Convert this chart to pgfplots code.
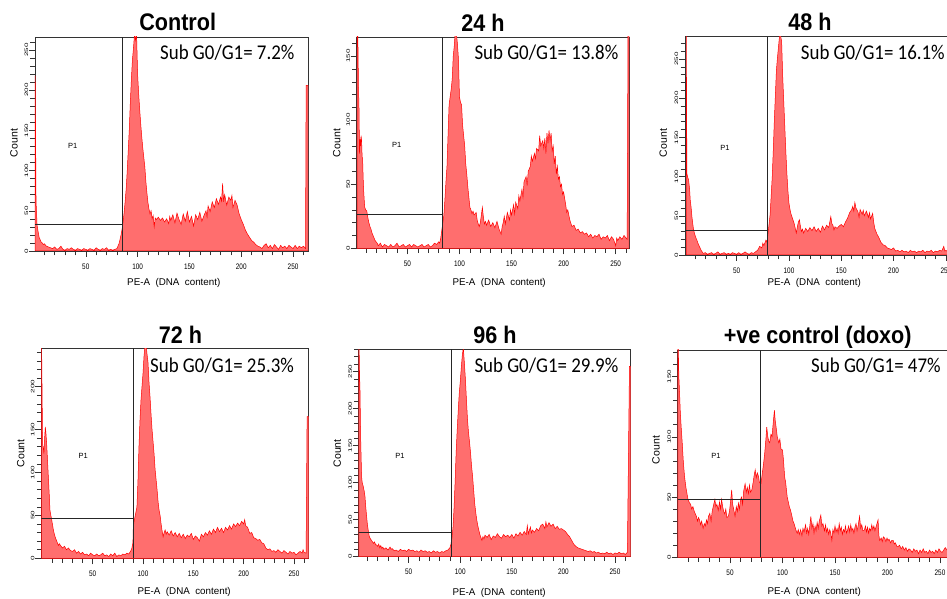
\documentclass[border=0pt]{standalone}
\usepackage{pgfplots}
\pgfplotsset{compat=1.18}
\usepackage{fontspec}
\setmainfont{Liberation Sans}
\newfontfamily\titlefont[FakeStretch=0.9]{Liberation Sans}
\newfontfamily\calfont[FakeStretch=0.9]{Carlito}
\definecolor{histfill}{RGB}{255,110,110}
\definecolor{histline}{RGB}{255,0,0}
\pgfplotsset{
  hist/.style={
    scale only axis,
    axis line style={black!80, line width=0.6pt},
    tick style={black!80, line width=0.5pt},
    tick align=outside,
    tick pos=left,
    xtick={50,100,150,200,250},
    minor xtick={10,20,...,260},
    minor ytick={10,20,...,280},
    major tick length=6pt,
    minor tick length=4.5pt,
    /pgf/number format/assume math mode=true,
    xticklabel style={font=\fontsize{8}{8}\selectfont, xscale=0.8},
    xticklabel shift=3pt,
    yticklabel style={font=\fontsize{6.2}{6.2}\selectfont, rotate=90, anchor=south, xscale=1.3, yscale=0.8},
    yticklabel shift=-2pt,
    ymin=0,
  },
  dat/.style={draw=histline, line width=0.5pt, fill=histfill},
  gate/.style={black!85, line width=0.7pt},
}
\begin{document}
\begin{tikzpicture}[x=1pt,y=1pt]
\useasboundingbox (0,0) rectangle (947,599);
\clip (0,0) rectangle (947,599);

% ---------------- Control ----------------
\begin{axis}[hist, at={(35pt,348pt)}, anchor=south west, width=273pt, height=214pt,
  xmin=1, xmax=264.4, ymax=266, ytick={0,50,100,150,200,250}]
\addplot[dat] coordinates {(1.2,218) (2,62) (3,32) (4,24) (5,17) (6,14) (7,11) (8,10) (9,8) (10,9) (12,6) (14,5) (16,4) (18,3) (20,5) (22,2) (24,3) (26,6) (28,2) (30,1) (32,3) (34,2) (36,4) (38,2) (40,1) (42,3) (44,2) (46,1) (48,3) (50,2) (52,1) (54,3) (56,2) (58,1) (60,4) (62,2) (64,1) (66,3) (68,2) (70,4) (72,1) (74,2) (76,1) (78,2) (80,3) (81,6) (82,9) (83,14) (84,20) (85,27) (86,36) (87,48) (88,62) (89,78) (90,100) (91,126) (92,152) (93,186) (94,214) (95,238) (96,252) (97,270) (98,262) (99,270) (100,220) (101,196) (102,176) (103,158) (104,142) (105,128) (106,116) (107,104) (108,86) (109,72) (110,60) (111,52) (112,46) (113,50) (114,40) (115,44) (116,30) (117,41) (118,39) (120,42) (122,38) (124,41) (126,36) (128,40) (130,34) (131,43) (132,38) (134,45) (136,35) (138,47) (140,39) (142,33) (144,46) (146,37) (148,49) (150,36) (152,43) (154,31) (156,45) (158,39) (160,48) (162,37) (164,44) (166,50) (167,42) (168,56) (170,49) (172,61) (174,54) (176,65) (178,58) (180,67) (181,62) (182,84) (183,61) (184,70) (186,57) (188,67) (190,63) (191,69) (192,54) (194,63) (196,57) (198,46) (200,39) (202,33) (204,26) (206,21) (208,17) (210,13) (212,11) (214,8) (216,6) (218,5) (220,3) (222,7) (224,9) (226,4) (228,7) (230,3) (232,8) (234,5) (236,2) (238,7) (240,4) (242,6) (244,3) (246,7) (248,5) (250,3) (252,7) (254,3) (256,6) (258,4) (260,6) (262,3) (262.6,206) (264.4,206)} \closedcycle;
\addplot[gate] coordinates {(1,33.6) (85.6,33.6)};
\addplot[gate] coordinates {(85.6,0) (85.6,266)};
\end{axis}

% ---------------- 24 h ----------------
\begin{axis}[hist, at={(356.7pt,350.7pt)}, anchor=south west, width=272.3pt, height=211.3pt,
  xmin=1.3, xmax=262.8, ymax=165, ytick={0,50,100,150}]
\addplot[dat] coordinates {(1.6,200) (2.5,160) (3,126) (3.5,110) (4,74) (4.5,85) (5,80) (5.5,88) (6,84) (6.5,72) (7,69) (7.5,55) (8,45) (8.5,38) (9,32) (10,30) (11,29) (12,24) (13,20) (14,17) (15,15) (16,12) (17,10) (18,8) (19,6) (20,5) (21,4) (22,2) (24,4) (26,1) (28,3) (30,2) (32,1) (34,3) (36,1) (38,2) (40,4) (42,1) (44,2) (46,3) (48,1) (50,2) (52,3) (54,1) (56,3) (58,2) (60,1) (62,2) (64,3) (66,1) (68,2) (70,3) (72,1) (74,2) (76,4) (78,3) (80,5) (81,4) (82,8) (83,14) (84,20) (85,26) (86,38) (87,52) (88,64) (89,88) (90,112) (91,118) (92,124) (93,132) (94,150) (95,158) (96,170) (97,168) (98,160) (99,148) (100,118) (101,114) (102,112) (103,96) (104,88) (105,80) (106,66) (107,58) (108,48) (109,40) (110,32) (111,30) (112,27) (113,29) (114,26) (116,28) (117,22) (118,19) (119,17) (120,20) (121,26) (122,32) (123,24) (124,19) (125,21) (126,18) (128,22) (130,17) (132,20) (134,16) (136,21) (138,15) (140,11) (141,17) (142,20) (143,25) (144,19) (146,28) (148,22) (149,30) (150,26) (152,34) (153,27) (154,36) (156,31) (157,41) (158,37) (160,46) (161,40) (162,52) (164,56) (165,49) (166,60) (168,64) (169,72) (170,68) (172,74) (173,70) (174,78) (176,76) (177,88) (178,80) (180,84) (181,78) (182,86) (183,74) (184,90) (185,82) (186,92) (187,84) (188,90) (189,76) (190,80) (191,66) (192,72) (193,58) (194,64) (195,54) (196,56) (197,48) (198,50) (199,42) (200,44) (202,34) (203,28) (204,30) (206,22) (208,17) (210,18) (212,14) (214,15) (216,12) (218,13) (220,11) (222,12) (224,9) (226,11) (228,8) (230,10) (232,9) (234,11) (236,7) (238,9) (240,8) (242,10) (244,6) (246,9) (248,7) (250,2) (251,8) (252,6) (254,9) (256,7) (258,10) (260,8) (261,7) (262,200) (262.8,200)} \closedcycle;
\addplot[gate] coordinates {(1.3,26.6) (83.4,26.6)};
\addplot[gate] coordinates {(83.4,0) (83.4,165)};
\end{axis}

% ---------------- 48 h ----------------
\begin{axis}[hist, at={(685pt,344pt)}, anchor=south west, width=275.5pt, height=218.3pt,
  xmin=0.6, xmax=264, ymax=278.5, ytick={0,50,100,150,200,250}]
\addplot[dat] coordinates {(1.8,300) (2.4,104) (3,100) (4,96) (5,84) (5.6,70) (6.5,60) (7.2,49) (8,40) (8.8,32) (10,26) (11,22) (12,19) (13,15) (14,12) (15,9) (16,6) (17,4) (18,2) (20,3) (22,1) (24,2) (26,3) (28,1) (30,2) (32,4) (34,1) (36,2) (38,3) (40,1) (42,2) (44,1) (46,3) (48,2) (50,1) (52,3) (54,1) (56,2) (58,4) (60,2) (62,1) (64,3) (66,2) (68,4) (70,6) (72,11) (74,9) (75,15) (76,12) (78,19) (79,16) (80,28) (81,40) (82,52) (83,76) (84,100) (85,134) (86,172) (87,204) (88,236) (89,252) (90,266) (91,280) (92,280) (93,272) (94,228) (95,196) (96,164) (97,132) (98,104) (99,82) (100,66) (101,58) (102,52) (103,48) (104,44) (105,40) (106,34) (107,28) (108,36) (109,42) (110,45) (111,36) (112,30) (113,33) (114,28) (116,34) (118,30) (120,35) (122,31) (124,36) (126,30) (128,34) (130,29) (132,37) (134,32) (136,38) (138,35) (140,49) (141,40) (142,38) (143,32) (144,36) (146,34) (148,37) (150,39) (152,36) (154,42) (156,47) (158,54) (160,58) (161,62) (162,56) (163,67) (164,60) (166,55) (167,48) (168,58) (170,52) (171,57) (172,50) (174,56) (176,48) (177,54) (178,46) (180,53) (181,42) (182,34) (184,27) (186,22) (188,16) (190,13) (192,12) (194,9) (196,8) (198,7) (200,9) (202,5) (204,6) (206,4) (208,6) (210,4) (212,5) (214,3) (216,6) (218,4) (220,5) (222,3) (224,5) (226,4) (228,6) (230,3) (232,5) (234,4) (236,6) (238,3) (240,5) (242,4) (244,6) (246,5) (248,11) (249,5) (250,6) (252,4) (254,5) (256,6) (258,4) (260,5) (262,4) (263,6)} \closedcycle;
\addplot[gate] coordinates {(0.6,32) (79.2,32)};
\addplot[gate] coordinates {(79.2,0) (79.2,278.5)};
\end{axis}

% ---------------- 72 h ----------------
\begin{axis}[hist, at={(41.3pt,40.7pt)}, anchor=south west, width=267.4pt, height=210pt,
  xmin=-1, xmax=264.6, ymax=244.6, ytick={0,50,100,150,200}]
\addplot[dat] coordinates {(-0.8,260) (0.3,134) (1,128) (1.6,122) (2.3,140) (3,153) (3.6,146) (4.3,134) (5,118) (6,95) (7,72) (7.6,56) (8.5,50) (9.3,45) (10,40) (11,33) (12,28) (13,24) (14,21) (15,18) (16,15) (17,17) (18,15) (20,12) (22,14) (24,10) (26,12) (28,9) (30,8) (32,10) (34,6) (36,8) (38,5) (40,7) (42,4) (44,5) (46,3) (48,6) (50,4) (52,3) (54,5) (56,3) (58,4) (60,6) (62,3) (64,4) (66,2) (68,5) (70,3) (72,6) (74,2) (76,4) (78,3) (80,5) (82,4) (84,6) (86,5) (88,9) (89,12) (90,18) (90.4,37) (91,42) (92,48) (93,54) (94,60) (95,90) (96,130) (97,160) (98,184) (99,200) (100,215) (101,235) (102,248) (103,250) (104,238) (105,228) (106,205) (107,188) (108,168) (109,150) (110,136) (111,122) (112,104) (113,92) (114,80) (115,66) (116,56) (117,50) (118,40) (119,32) (120,25) (121,30) (122,33) (123,28) (124,31) (126,27) (128,32) (130,26) (132,30) (134,25) (136,29) (138,24) (140,28) (142,23) (144,27) (146,25) (148,29) (150,22) (152,26) (154,24) (156,20) (158,28) (160,25) (162,30) (164,27) (166,32) (168,28) (170,34) (172,30) (174,36) (176,31) (178,35) (180,30) (182,36) (184,33) (186,38) (188,34) (190,40) (192,37) (194,41) (196,38) (198,43) (200,40) (201,45) (202,38) (204,36) (206,29) (208,30) (210,24) (212,23) (214,21) (216,22) (218,18) (220,17) (222,12) (224,10) (226,11) (228,8) (230,9) (232,7) (234,10) (236,8) (238,6) (240,9) (242,7) (244,5) (246,8) (248,6) (250,7) (252,4) (254,6) (256,8) (258,6) (259,10) (260,7) (262,6) (263,165) (264.6,165)} \closedcycle;
\addplot[gate] coordinates {(-1,46.5) (90.3,46.5)};
\addplot[gate] coordinates {(90.3,0) (90.3,244.6)};
\end{axis}

% ---------------- 96 h ----------------
\begin{axis}[hist, at={(358.7pt,42.3pt)}, anchor=south west, width=272pt, height=207.4pt,
  xmin=1.6, xmax=265.2, ymax=280, ytick={0,50,100,150,200,250}]
\addplot[dat] coordinates {(1.8,300) (2.5,240) (2.8,230) (3.5,160) (4.4,108) (5,100) (6,95) (7,88) (7.7,81) (8.5,66) (9.3,54) (10,44) (11,34) (11.9,27) (13,24) (14,22) (15,20) (16,18) (17,20) (18,16) (19,16) (20,14) (21,17) (22,12) (23,15) (24,11) (25,13) (26,10) (28,12) (30,9) (32,13) (33,10) (34,11) (36,8) (38,9) (40,7) (42,10) (44,8) (46,9) (48,7) (50,10) (52,8) (54,9) (56,7) (58,8) (60,6) (62,9) (64,7) (66,8) (68,6) (70,7) (72,5) (74,8) (76,6) (78,7) (80,5) (82,7) (84,6) (86,8) (88,9) (90,12) (91,17) (92,26) (93,40) (94,66) (95,100) (96,140) (97,170) (98,196) (99,220) (100,236) (101,255) (102,272) (103,282) (104,262) (105,240) (106,212) (107,186) (108,168) (109,155) (110,140) (111,122) (112,108) (113,90) (114,72) (115,60) (116,50) (117,42) (118,36) (119,30) (120,26) (121,22) (122,27) (123,24) (124,29) (126,26) (128,30) (130,23) (132,28) (134,26) (136,31) (138,27) (140,25) (142,30) (144,27) (146,29) (148,26) (150,30) (152,25) (154,31) (156,28) (158,33) (160,29) (162,34) (164,30) (165,42) (166,31) (168,40) (169,32) (170,36) (172,33) (174,38) (176,35) (178,42) (180,44) (182,38) (183,47) (184,40) (186,46) (188,41) (190,44) (192,38) (194,41) (196,37) (198,38) (200,36) (202,34) (204,30) (206,27) (208,22) (210,17) (212,14) (214,12) (216,11) (218,10) (220,9) (222,8) (224,7) (226,8) (228,6) (230,7) (232,5) (234,6) (236,4) (238,5) (240,4) (242,6) (244,4) (246,5) (248,3) (250,5) (252,4) (254,6) (256,4) (258,5) (260,3) (262,6) (264,257) (265.2,257)} \closedcycle;
\addplot[gate] coordinates {(1.6,33) (91.7,33)};
\addplot[gate] coordinates {(91.7,0) (91.7,280)};
\end{axis}

% ---------------- +ve control (doxo) ----------------
\begin{axis}[hist, at={(677.7pt,41.7pt)}, anchor=south west, width=277pt, height=207.3pt,
  xmin=0.2, xmax=264, ymax=172, ytick={0,50,100,150}]
\addplot[dat] coordinates {(0.4,190) (1.3,150) (2,136) (2.6,122) (3.5,108) (4.5,95) (5.5,80) (6.7,67) (8,58) (9,53) (10,48) (11.5,45) (12.5,44) (13.5,40) (14.7,42) (16,38) (17,36) (18,34) (19,30) (20,33) (21,31) (22,27) (23,30) (24.4,24) (25.5,28) (26.5,26) (27.6,31) (28.5,28) (29.5,34) (30.8,36.5) (32,30) (33,38) (34,42) (35.6,48) (36.5,42) (37.5,44) (38.8,39) (40,46) (41,40) (42,48) (43,42) (44,38) (45,36) (46,40) (47,33) (48.4,34) (49.5,38) (50.5,46) (51.6,56) (52.5,44) (53.5,40) (54.8,34) (56,42) (57,38) (58,45) (59,40) (60,48) (61,50) (62,44) (63,55) (64.4,61) (65.5,54) (66.5,58) (67.6,53) (68.5,60) (69.5,54) (70.8,56) (72,62) (73,68) (74,72.5) (75,66) (76,70) (77.2,67) (78,62) (79.5,61) (80.5,68) (82,78) (83,86) (84,96) (85,108) (86,100) (87,96) (87.8,95) (89,102) (90,100) (91,110) (92.3,122) (93,114) (94.2,106) (95,100) (96.5,95) (97.5,98) (98.5,90) (100,89) (101,80) (102,67) (103,62) (104.5,50) (105.5,46) (106.5,42) (107.7,39) (109,34) (110,30) (111,28) (112,25) (113,22) (114,20) (115,23) (116,19) (117.3,23) (118.5,18) (119.5,24) (120.5,21) (122,27) (123,20) (124,24) (125,19) (126,26) (127,34) (128,24) (129,28) (130,20) (131,26) (132,22) (133,29) (134,24) (135,30) (136.5,35) (137.5,26) (138.5,28) (140,22) (141,27) (142,21) (143,24) (144,19) (145,23) (146,20) (147,14) (148,23) (149,20) (150,26) (151,21) (152,24) (153,20) (154,28) (155,22) (156,25) (157,19) (158,23) (159,21) (160,26) (161,20) (162,22.7) (163,26) (164,21) (165,27) (166,22) (167,24) (168,20) (169,25) (170,28) (171,22) (172,26) (173.4,34) (174.5,24) (175.5,27) (176.5,22) (178,22.7) (179,26) (180,21) (181,25) (182,20) (183,24) (184,22) (185,27) (186,23) (187,26) (188,22) (189,25) (190,28) (191,31) (191.8,18) (192.6,14) (194,16) (195,13) (196,17) (197.4,15.8) (198.5,13) (199.5,16) (200.5,14) (201.5,15) (203,12) (204,14) (205.4,14) (206.5,11) (207.5,12) (209,9) (210,8.9) (211.5,10) (213,7) (214.5,9) (216,6) (217.5,8) (219,5) (220.5,7) (222,6) (223.5,4) (225,7) (226.5,5) (228,6) (229.5,3) (231,6) (232.5,4) (234,7) (235.5,4) (237,5) (238.5,3) (240,6) (241.5,4) (243,5) (244.5,3) (246,6) (247.5,4) (249,7) (250.5,5) (252,4) (253.5,6) (255,8) (256.7,6) (258,5) (260,7) (262,4) (264,6)} \closedcycle;
\addplot[gate] coordinates {(0.2,48.2) (78.8,48.2)};
\addplot[gate] coordinates {(78.8,0) (78.8,172)};
\end{axis}

% ---------------- titles ----------------
\begin{scope}[every node/.style={font=\titlefont\bfseries\fontsize{24}{24}\selectfont, anchor=base, inner sep=0pt}]
\node at (177.7,568.3) {Control};
\node at (483,567.3) {24 h};
\node at (810,568.3) {48 h};
\node at (180.5,255.7) {72 h};
\node at (495,255) {96 h};
\node at (817.7,255.7) {+ve control (doxo)};
\end{scope}

% ---------------- sub G0/G1 ----------------
\begin{scope}[every node/.style={font=\calfont\fontsize{21}{21}\selectfont, anchor=base west, inner sep=0pt}]
\node at (160,539) {Sub G0/G1= 7.2\%};
\node at (474.3,539) {Sub G0/G1= 13.8\%};
\node at (800.7,539) {Sub G0/G1= 16.1\%};
\node at (150,226.7) {Sub G0/G1= 25.3\%};
\node at (474.3,226.7) {Sub G0/G1= 29.9\%};
\node at (811,226.7) {Sub G0/G1= 47\%};
\end{scope}

% ---------------- axis labels ----------------
\begin{scope}[every node/.style={font=\fontsize{10.5}{10.5}\selectfont, rotate=90}]
\node at (14,456) {Count};
\node at (336.7,456) {Count};
\node at (663.3,456) {Count};
\node at (20.7,145.7) {Count};
\node at (337.3,145.7) {Count};
\node at (656,149) {Count};
\end{scope}
\begin{scope}[every node/.style={font=\fontsize{9.8}{9.8}\selectfont}]
\node at (173.8,315.7) {PE-A\ \ (DNA\ \ content)};
\node at (499.2,315.7) {PE-A\ \ (DNA\ \ content)};
\node at (814.2,315.7) {PE-A\ \ (DNA\ \ content)};
\node at (184.2,7.3) {PE-A\ \ (DNA\ \ content)};
\node at (499.2,6.3) {PE-A\ \ (DNA\ \ content)};
\node at (814.2,7.3) {PE-A\ \ (DNA\ \ content)};
\end{scope}
\begin{scope}[every node/.style={font=\fontsize{7.5}{7.5}\selectfont}]
\node at (72.7,453) {P1};
\node at (396.7,454) {P1};
\node at (725,451.3) {P1};
\node at (83.3,143) {P1};
\node at (400,143.3) {P1};
\node at (716,143) {P1};
\end{scope}
\end{tikzpicture}
\end{document}
